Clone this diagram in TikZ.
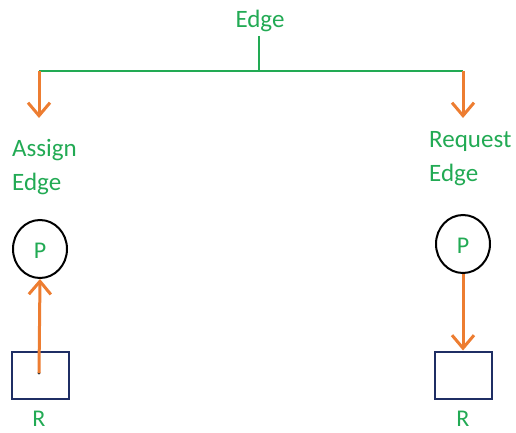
\documentclass[tikz,border=0pt]{standalone}
\usepackage{fontspec}
\setmainfont{Carlito}
\usetikzlibrary{arrows.meta,shapes.geometric}
\definecolor{edgegreen}{RGB}{34,170,84}
\definecolor{arroworange}{RGB}{237,125,49}
\definecolor{boxnavy}{RGB}{31,46,100}
\tikzset{
  x=1pt, y=-1pt,
  bigtext/.style={text=edgegreen, font=\fontsize{25}{34}\selectfont, inner sep=0pt},
  smalltext/.style={text=edgegreen, font=\fontsize{24}{26}\selectfont, inner sep=0pt},
  tree/.style={draw=edgegreen, line width=2pt},
  flow/.style={draw=arroworange, line width=3pt,
    -{Straight Barb[length=13pt,width=22pt,line width=3pt]}},
  proc/.style={draw=black, line width=2pt, ellipse, minimum width=54pt, minimum height=58pt, inner sep=0pt},
  res/.style={draw=boxnavy, line width=2pt, rectangle, minimum width=57pt, minimum height=47pt, inner sep=0pt},
}
\begin{document}
\begin{tikzpicture}
\useasboundingbox (0,0) rectangle (516,433);
% title and the branching line
\node[bigtext] (title) at (260,21) {Edge};
\coordinate (top) at (259,71);
\coordinate (stem) at (259,36);
\coordinate (lb) at (39,71);
\coordinate (rb) at (463,71);
\coordinate (lt) at (39,118);
\coordinate (rt) at (463,118);
\draw[tree] (stem) -- (top);
\draw[tree] (lb) -- (rb);
\draw[flow] (lb) -- (lt);
\draw[flow] (rb) -- (rt);
% branch labels
\node[bigtext, anchor=west, align=left] (assign) at (12,167) {Assign\\Edge};
\node[bigtext, anchor=west, align=left] (request) at (429,159) {Request\\Edge};
% assignment: resource to process
\node[proc] (p1) at (40,249) {};
\node[smalltext] at (40,251) {P};
\node[res] (r1) at (40,375) {};
\node[smalltext] (rl1) at (39,419) {R};
\coordinate (dot) at (39,373);
\fill[black!80] (dot) circle (1.6pt);
\draw[flow] (dot) -- (p1.south);
% request: process to resource
\node[proc] (p2) at (463,244) {};
\node[smalltext] at (463,246) {P};
\node[res] (r2) at (463,375) {};
\node[smalltext] (rl2) at (463,419) {R};
\draw[flow] (p2.south) -- (r2.north);
\end{tikzpicture}
\end{document}
